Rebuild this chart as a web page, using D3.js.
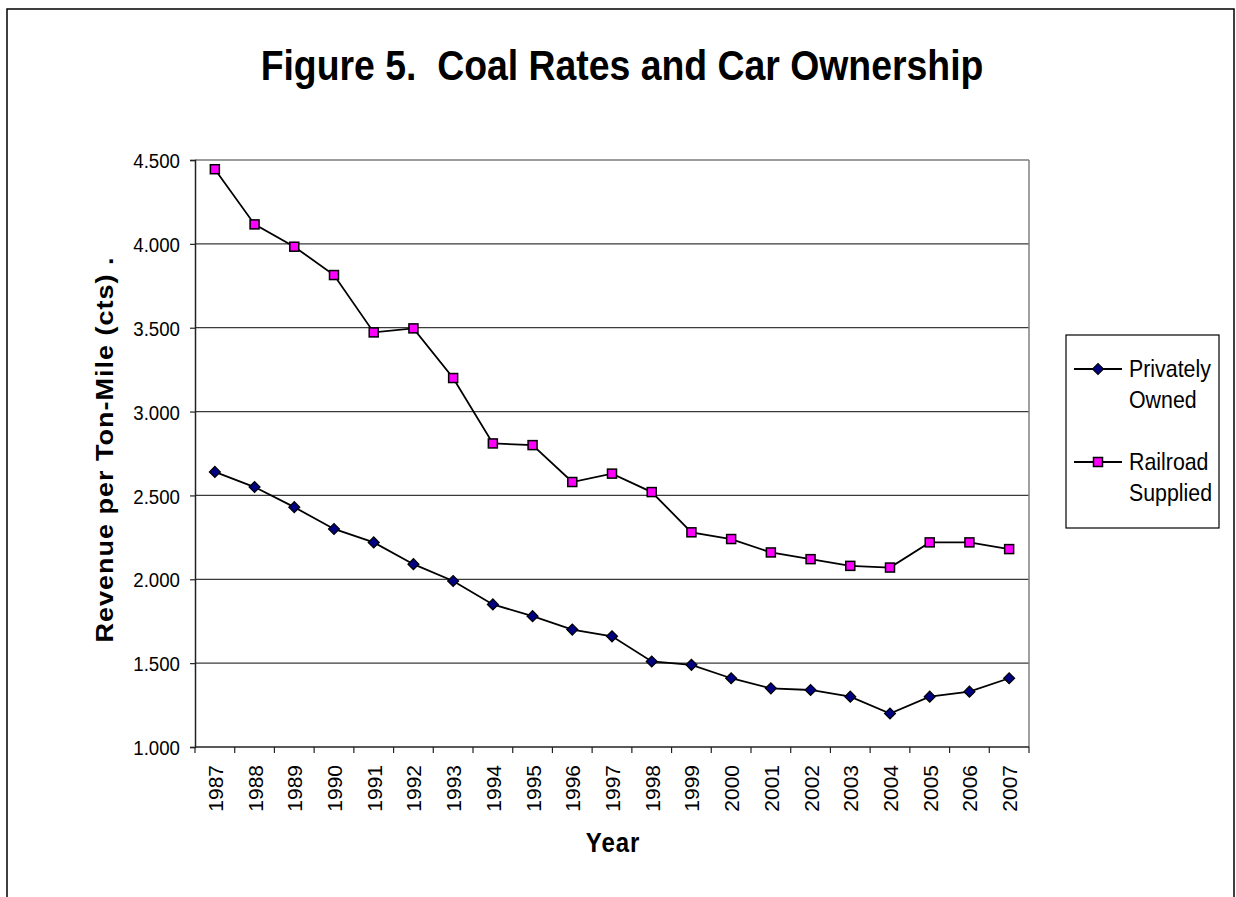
<!DOCTYPE html>
<html>
<head>
<meta charset="utf-8">
<script src="https://cdn.jsdelivr.net/npm/d3@7"></script>
<style>
  html, body { margin: 0; padding: 0; background: #fff; }
  svg { display: block; }
  text { font-family: Arial, "Liberation Sans", sans-serif; fill: #000; }
</style>
</head>
<body>
<svg id="chart" width="1236" height="897"></svg>
<script>
// Coal rates (revenue per ton-mile, cents) by car ownership
const years = ["1987","1988","1989","1990","1991","1992","1993","1994","1995","1996","1997",
               "1998","1999","2000","2001","2002","2003","2004","2005","2006","2007"];
const privatelyOwned = [2.64, 2.55, 2.43, 2.30, 2.22, 2.09, 1.99, 1.85, 1.78, 1.70, 1.66,
                        1.51, 1.49, 1.41, 1.35, 1.34, 1.30, 1.20, 1.30, 1.33, 1.41];
const railroadSupplied = [4.445, 4.116, 3.983, 3.814, 3.472, 3.496, 3.20, 2.81, 2.80, 2.58, 2.63,
                          2.52, 2.28, 2.24, 2.16, 2.12, 2.08, 2.07, 2.22, 2.22, 2.18];
const yTicks = [1.0, 1.5, 2.0, 2.5, 3.0, 3.5, 4.0, 4.5];

const svg = d3.select("#chart");
const SX = 0.89; // horizontal glyph squeeze used throughout

// Outer chart frame
svg.append("rect")
  .attr("x", 7).attr("y", 9).attr("width", 1227).attr("height", 1000)
  .attr("fill", "#fff").attr("stroke", "#000").attr("stroke-width", 1.5);

// Plot area
const plot = { left: 195, right: 1029, top: 160, bottom: 747 };
const x = d3.scaleBand().domain(years).range([plot.left, plot.right]).padding(0);
const y = d3.scaleLinear().domain([1.0, 4.5]).range([plot.bottom, plot.top]);

// Horizontal gridlines
svg.append("g").selectAll("line").data(yTicks.filter(t => t > 1.0)).join("line")
  .attr("x1", plot.left).attr("x2", plot.right)
  .attr("y1", d => y(d)).attr("y2", d => y(d))
  .attr("stroke", "#3a3a3a").attr("stroke-width", 1.2);

// Right edge of plot area
svg.append("line")
  .attr("x1", plot.right).attr("x2", plot.right)
  .attr("y1", plot.top).attr("y2", plot.bottom)
  .attr("stroke", "#808080").attr("stroke-width", 1.5);

// Y axis
const yAxis = d3.axisLeft(y).tickValues(yTicks).tickSize(5).tickFormat(d3.format(".3f"));
const gy = svg.append("g").attr("transform", `translate(${plot.left},0)`).call(yAxis);
gy.select(".domain").attr("stroke", "#222").attr("stroke-width", 1.5);
gy.selectAll(".tick line").attr("stroke", "#222").attr("stroke-width", 1.2);
gy.selectAll(".tick text").remove();
gy.selectAll(".tick").append("text")
  .attr("transform", `translate(-15,0) scale(${SX},1)`)
  .attr("text-anchor", "end")
  .attr("dy", "0.36em")
  .style("font-size", "21px")
  .text(d => d3.format(".3f")(d));

// X axis (ticks at band boundaries, labels centred in bands)
const gx = svg.append("g").attr("transform", `translate(0,${plot.bottom})`);
gx.append("line").attr("x1", plot.left).attr("x2", plot.right)
  .attr("stroke", "#222").attr("stroke-width", 1.5);
const bounds = years.map(d => x(d)).concat([plot.right]);
gx.selectAll("line.tk").data(bounds).join("line").attr("class", "tk")
  .attr("x1", d => d).attr("x2", d => d).attr("y1", 0).attr("y2", 6)
  .attr("stroke", "#222").attr("stroke-width", 1.2);
gx.selectAll("text").data(years).join("text")
  .attr("transform", d => `translate(${x(d) + x.bandwidth() / 2 + 8},18) rotate(-90)`)
  .attr("text-anchor", "end")
  .style("font-size", "21px")
  .text(d => d);

// Series lines and markers
const line = d3.line().x((d, i) => x(years[i]) + x.bandwidth() / 2).y(d => y(d));

svg.append("path").datum(privatelyOwned).attr("d", line)
  .attr("fill", "none").attr("stroke", "#000").attr("stroke-width", 1.8);
svg.append("path").datum(railroadSupplied).attr("d", line)
  .attr("fill", "none").attr("stroke", "#000").attr("stroke-width", 1.8);

const diamond = d3.symbol().type(d3.symbolSquare).size(60);
svg.append("g").selectAll("path").data(privatelyOwned).join("path")
  .attr("d", diamond)
  .attr("transform", (d, i) => `translate(${x(years[i]) + x.bandwidth() / 2},${y(d)}) rotate(45)`)
  .attr("fill", "#000080").attr("stroke", "#000").attr("stroke-width", 1.2);

svg.append("g").selectAll("rect").data(railroadSupplied).join("rect")
  .attr("x", (d, i) => x(years[i]) + x.bandwidth() / 2 - 4.5)
  .attr("y", d => y(d) - 4.5)
  .attr("width", 9).attr("height", 9)
  .attr("fill", "#ff00ff").attr("stroke", "#000").attr("stroke-width", 1.5);

// Title (keeps the double space after the figure number)
svg.append("text")
  .attr("transform", `translate(622,80) scale(${SX},1)`)
  .attr("text-anchor", "middle")
  .attr("xml:space", "preserve")
  .style("white-space", "pre")
  .style("font-size", "42px").style("font-weight", "bold")
  .text("Figure 5.  Coal Rates and Car Ownership");

// Axis titles
svg.append("text")
  .attr("transform", `translate(613,852) scale(${SX},1)`)
  .attr("text-anchor", "middle")
  .style("font-size", "27px").style("font-weight", "bold")
  .style("letter-spacing", "1px")
  .text("Year");

svg.append("text")
  .attr("transform", `translate(113,${(plot.top + plot.bottom) / 2 - 4}) rotate(-90) scale(1,${SX})`)
  .attr("text-anchor", "middle")
  .style("font-size", "27px").style("font-weight", "bold")
  .style("letter-spacing", "1px")
  .text("Revenue per Ton-Mile (cts) .");

// Legend
const legend = svg.append("g");
legend.append("rect")
  .attr("x", 1066).attr("y", 335).attr("width", 153).attr("height", 193)
  .attr("fill", "#fff").attr("stroke", "#000").attr("stroke-width", 1.2);

const legendItems = [
  { lines: ["Privately", "Owned"], y: 369, kind: "diamond" },
  { lines: ["Railroad", "Supplied"], y: 462, kind: "square" }
];
legendItems.forEach(it => {
  legend.append("line").attr("x1", 1074).attr("x2", 1122)
    .attr("y1", it.y).attr("y2", it.y)
    .attr("stroke", "#000").attr("stroke-width", 1.8);
  if (it.kind === "diamond") {
    legend.append("path").attr("d", diamond)
      .attr("transform", `translate(1098,${it.y}) rotate(45)`)
      .attr("fill", "#000080").attr("stroke", "#000").attr("stroke-width", 1.2);
  } else {
    legend.append("rect").attr("x", 1098 - 4.5).attr("y", it.y - 4.5)
      .attr("width", 9).attr("height", 9)
      .attr("fill", "#ff00ff").attr("stroke", "#000").attr("stroke-width", 1.5);
  }
  it.lines.forEach((t, k) => {
    legend.append("text")
      .attr("transform", `translate(1129,${it.y + 8 + k * 31}) scale(${SX},1)`)
      .style("font-size", "24px")
      .text(t);
  });
});
</script>
</body>
</html>
